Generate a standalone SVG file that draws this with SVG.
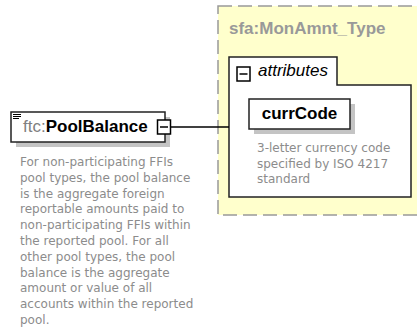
<svg xmlns="http://www.w3.org/2000/svg" width="417" height="330" viewBox="0 0 417 330">
<style>
.lbl{font-family:"Liberation Sans",Arial,sans-serif;font-size:17px}
.b{font-weight:bold;fill:#000}
.pre{fill:#808080}
.desc{font-family:"DejaVu Sans",Verdana,sans-serif;font-size:12px;fill:#8c8c8c}
.box{fill:#fff;stroke:#222;stroke-width:1.5}
.shadow{fill:#c4c4c4}
.conn{stroke:#000;stroke-width:1.5;fill:none}
</style>
<rect width="417" height="330" fill="#fff"/>
<g id="MonAmnt_Type">
  <rect x="218" y="6" width="215" height="209" fill="#ffffcc" stroke="#999" stroke-width="1.5" stroke-dasharray="14,6"/>
  <text class="lbl" x="229" y="34" font-weight="bold" fill="#999">sfa:MonAmnt_Type</text>
</g>
<g id="attributes">
  <path d="M229,197 L229,57 L337,57 L337,85 L411,85 L411,197 Z" class="box"/>
  <rect x="237" y="67" width="13" height="14" fill="#fff" stroke="#000" stroke-width="1.5"/>
  <line x1="239.5" y1="74" x2="247.5" y2="74" stroke="#000" stroke-width="1.5"/>
  <text class="lbl" x="258" y="76" font-style="italic" font-size="16" fill="#000">attributes</text>
</g>
<g id="currCode">
  <rect class="shadow" x="254" y="104" width="101" height="30"/>
  <rect class="box" x="249" y="99" width="101" height="30"/>
  <text class="lbl b" x="299.5" y="119" text-anchor="middle">currCode</text>
  <text class="desc"><tspan x="257" y="152">3-letter currency code</tspan><tspan x="257" y="167.5">specified by ISO 4217</tspan><tspan x="257" y="183">standard</tspan></text>
</g>
<g id="connectors">
  <line class="conn" x1="171" y1="127" x2="229" y2="127"/>
</g>
<g id="PoolBalance">
  <rect class="shadow" x="16" y="117" width="154" height="30"/>
  <rect class="box" x="11" y="112" width="154" height="30"/>
  <g stroke="#000" stroke-width="1">
    <line x1="13" y1="114.5" x2="21" y2="114.5"/>
    <line x1="13" y1="116.5" x2="21" y2="116.5"/>
    <line x1="13" y1="118.5" x2="19" y2="118.5"/>
  </g>
  <text class="lbl" x="23" y="132"><tspan class="pre">ftc:</tspan><tspan class="b">PoolBalance</tspan></text>
  <rect x="157.5" y="120" width="13" height="14" fill="#fff" stroke="#000" stroke-width="1.5"/>
  <line x1="160" y1="127" x2="168" y2="127" stroke="#000" stroke-width="1.5"/>
  <text class="desc"><tspan x="20" y="166">For non-participating FFIs</tspan><tspan x="20" y="181.8">pool types, the pool balance</tspan><tspan x="20" y="197.6">is the aggregate foreign</tspan><tspan x="20" y="213.4">reportable amounts paid to</tspan><tspan x="20" y="229.2">non-participating FFIs within</tspan><tspan x="20" y="245">the reported pool. For all</tspan><tspan x="20" y="260.8">other pool types, the pool</tspan><tspan x="20" y="276.6">balance is the aggregate</tspan><tspan x="20" y="292.4">amount or value of all</tspan><tspan x="20" y="308.2">accounts within the reported</tspan><tspan x="20" y="324">pool.</tspan></text>
</g>
</svg>
